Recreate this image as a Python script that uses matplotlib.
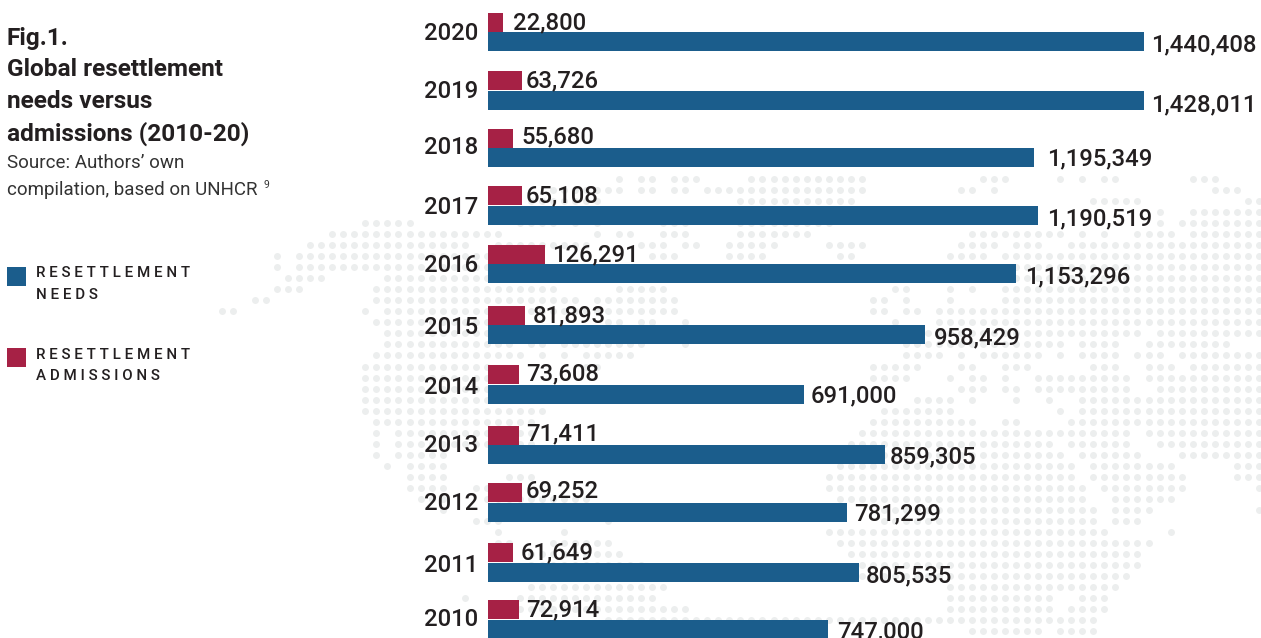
import matplotlib
matplotlib.use("Agg")
import matplotlib.pyplot as plt

years = ["2020", "2019", "2018", "2017", "2016", "2015", "2014", "2013", "2012", "2011", "2010"]

# printed figures
needs_labels = ["1,440,408", "1,428,011", "1,195,349", "1,190,519", "1,153,296", "958,429",
                "691,000", "859,305", "781,299", "805,535", "747,000"]
admissions_labels = ["22,800", "63,726", "55,680", "65,108", "126,291", "81,893",
                     "73,608", "71,411", "69,252", "61,649", "72,914"]

# bar lengths as drawn in the picture, they do not follow the printed figures exactly
needs_drawn = [1440408, 1440000, 1199000, 1208000, 1159500, 959600, 694000, 871800, 788400, 814700, 746600]
admissions_drawn = [32900, 74700, 54900, 74700, 125200, 81250, 68000, 68000, 74700, 54900, 68000]

# layout, in pixels of the figure
needs_row = [41.5, 100.5, 157.5, 215.5, 273.5, 334.5, 394.5, 454.5, 512.5, 572.5, 629.5]
admissions_row = [22.5, 80.5, 138.5, 195.5, 254.5, 315.5, 374.5, 435.5, 492.5, 552.5, 609.5]
year_y = [32, 91, 146, 207, 265, 326, 387, 444, 502, 564, 619]
needs_gap = [7, 7, 13, 9, 9, 9, 7, 5, 7, 7, 9]
admissions_gap = [10, 4, 8, 4, 7, 8, 7, 7, 4, 8, 7]
needs_text_y = [44, 104, 158, 218, 276, 337, 395, 456, 513, 575, 631]
admissions_text_y = [22, 80, 136, 195, 254, 315, 373, 433, 490, 552, 609]

# dotted world map behind the bars: for each grid row, runs of filled columns
map_rows = {
    0: [(36, 36), (38, 39), (41, 43), (48, 58), (69, 71), (76, 76), (78, 78), (80, 81), (88, 90)],
    1: [(30, 36), (38, 39), (41, 42), (44, 58), (67, 68), (70, 70), (90, 92)],
    2: [(28, 34), (47, 57), (79, 83), (93, 94)],
    3: [(85, 85), (88, 94)],
    4: [(13, 17), (27, 30), (32, 32), (34, 34), (40, 42), (47, 55), (85, 85), (87, 94)],
    5: [(10, 25), (34, 34), (36, 37), (40, 42), (47, 53), (68, 76), (78, 78), (80, 80), (83, 86), (88, 94)],
    6: [(8, 22), (25, 33), (38, 40), (42, 43), (46, 50), (55, 58), (67, 70), (72, 74), (77, 94)],
    7: [(5, 5), (7, 25), (39, 41), (46, 49), (56, 57), (66, 69), (71, 94)],
    8: [(5, 5), (7, 24), (72, 94)],
    9: [(6, 9), (15, 24), (72, 94)],
    10: [(5, 7), (14, 30), (36, 40), (61, 62), (66, 66), (68, 68), (71, 94)],
    11: [(3, 4), (14, 32), (34, 41), (59, 60), (62, 62), (66, 66), (71, 94)],
    12: [(0, 1), (13, 13), (15, 41), (59, 60), (62, 63), (65, 94)],
    13: [(14, 25), (35, 36), (38, 39), (42, 42), (61, 61), (65, 94)],
    14: [(15, 24), (64, 83), (85, 94)],
    15: [(15, 26), (28, 29), (31, 38), (42, 42), (62, 76), (78, 81), (84, 91)],
    16: [(14, 27), (29, 29), (31, 31), (33, 37), (62, 65), (67, 67), (69, 74), (76, 76), (78, 81), (83, 85), (87, 94)],
    17: [(13, 24), (33, 34), (59, 63), (67, 68), (71, 73), (79, 81), (84, 86), (88, 94)],
    18: [(13, 24), (59, 62), (66, 66), (68, 69), (71, 71), (74, 82), (84, 94)],
    19: [(13, 24), (67, 69), (71, 72), (74, 82), (85, 94)],
    20: [(13, 24), (63, 66), (68, 68), (72, 72), (75, 75), (78, 94)],
    21: [(13, 29), (60, 66), (76, 76), (78, 94)],
    22: [(14, 28), (59, 68), (71, 72), (77, 94)],
    23: [(14, 14), (16, 28), (58, 82), (84, 94)],
    24: [(14, 14), (16, 28), (57, 75), (77, 82), (85, 94)],
    25: [(14, 14), (16, 20), (60, 76), (78, 83), (87, 94)],
    26: [(15, 15), (17, 20), (56, 77), (79, 86), (92, 94)],
    27: [(17, 20), (26, 28), (55, 77), (79, 87), (92, 94)],
    28: [(17, 20), (23, 25), (55, 78), (80, 87), (94, 94)],
    29: [(18, 20), (24, 33), (56, 78), (81, 86)],
    30: [(20, 20), (60, 79), (81, 84), (94, 94)],
    31: [(23, 25), (35, 35), (60, 79), (81, 83)],
    32: [(25, 25), (31, 31), (55, 80), (86, 86)],
    33: [(25, 26), (30, 35), (56, 84)],
    34: [(28, 36), (57, 83)],
    35: [(28, 38), (58, 83)],
    36: [(58, 82)],
    37: [(28, 40), (66, 81)],
    38: [(22, 22), (27, 39), (66, 75), (78, 80)],
    39: [(27, 42), (66, 75), (77, 80)],
    40: [(35, 79)],
    41: [(68, 74), (76, 79)],
}

BLUE = "#1b5d8c"
RED = "#a62145"
DOT = "#eceeee"
INK = "#231f20"
PX_PER_PT = 100 / 72
UNITS_PER_PX = 2196

plt.rcParams["font.family"] = ["Roboto", "DejaVu Sans"]

fig = plt.figure(figsize=(12.61, 6.38), dpi=100)

# background map in pixel coordinates
ax_map = fig.add_axes([0, 0, 1, 1], zorder=0)
ax_map.set_xlim(0, 1261)
ax_map.set_ylim(638, 0)
ax_map.axis("off")

dots_x = []
dots_y = []
for row, runs in map_rows.items():
    for first, last in runs:
        for col in range(first, last + 1):
            dots_x.append(222 + 11.03 * col)
            dots_y.append(179 + 11.03 * row)
ax_map.scatter(dots_x, dots_y, s=25, color=DOT, linewidths=0)

# bars: x is in people, y stays in pixels because the rows are unevenly spaced
ax = fig.add_axes([0, 0, 1, 1], zorder=1)
ax.patch.set_alpha(0)
ax.set_xlim(-488 * UNITS_PER_PX, (1261 - 488) * UNITS_PER_PX)
ax.set_ylim(638, 0)
ax.axis("off")

ax.barh(needs_row, needs_drawn, height=19, color=BLUE, linewidth=0)
ax.barh(admissions_row, admissions_drawn, height=19, color=RED, linewidth=0)

LABEL_SIZE = 17.2
for i, year in enumerate(years):
    ax.annotate(year, (0, year_y[i] + 1), xytext=(-10 / PX_PER_PT, 0), textcoords="offset points",
                ha="right", va="center", fontsize=LABEL_SIZE, fontweight="medium", color=INK)
    ax.annotate(needs_labels[i], (needs_drawn[i], needs_text_y[i] + 0.5),
                xytext=(needs_gap[i] / PX_PER_PT, 0), textcoords="offset points",
                ha="left", va="center", fontsize=LABEL_SIZE, fontweight="medium", color=INK,
                annotation_clip=False)
    ax.annotate(admissions_labels[i], (admissions_drawn[i], admissions_text_y[i] + 0.5),
                xytext=(admissions_gap[i] / PX_PER_PT, 0), textcoords="offset points",
                ha="left", va="center", fontsize=LABEL_SIZE, fontweight="medium", color=INK)

# title block and legend
title_lines = ["Fig.1.", "Global resettlement", "needs versus", "admissions (2010-20)"]
title_y = [38, 69, 101, 133]
for text, y in zip(title_lines, title_y):
    ax_map.text(7, y + 1, text, fontsize=17.6, fontweight="bold", color=INK, va="center", zorder=3)

ax_map.text(7, 163, "Source: Authors\u2019 own", fontsize=13.5, color="#333333", va="center", zorder=3)
ax_map.text(7, 190, "compilation, based on UNHCR", fontsize=13.5, color="#333333", va="center", zorder=3)
ax_map.text(264, 185, "9", fontsize=7.5, color="#333333", va="center", zorder=3)

ax_map.add_patch(plt.Rectangle((7, 267), 19, 19, color=BLUE, linewidth=0))
ax_map.add_patch(plt.Rectangle((7, 348), 19, 19, color=RED, linewidth=0))
for text, y in [("RESETTLEMENT", 273), ("NEEDS", 295), ("RESETTLEMENT", 355), ("ADMISSIONS", 376)]:
    ax_map.text(36, y, " ".join(text), fontsize=10.9, fontweight="medium", color=INK, va="center", zorder=3)

fig.savefig("out.png", dpi=100)
plt.close(fig)
